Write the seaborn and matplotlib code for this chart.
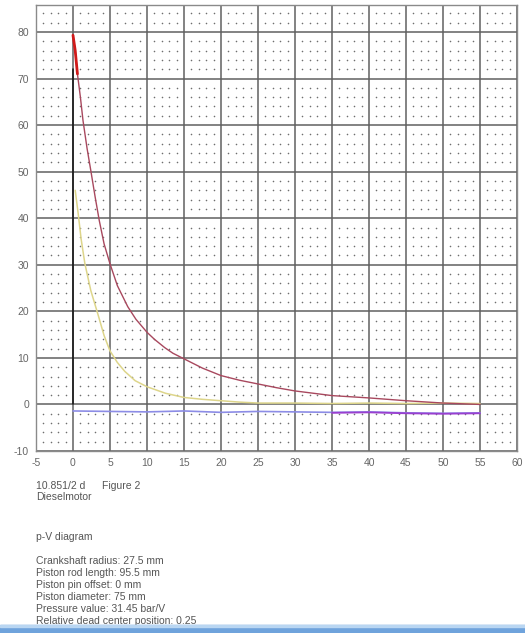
import numpy as np
import pandas as pd
import matplotlib
matplotlib.use('Agg')
import matplotlib.pyplot as plt
import seaborn as sns

sns.set_style("white")
plt.rcParams['font.family'] = ['Liberation Sans', 'DejaVu Sans']
plt.rcParams['axes.unicode_minus'] = False

# ---- data ----
# expansion stroke (red)
exp_x = [0.0, 0.3, 0.6, 1.0, 1.35, 1.9, 2.4, 3.0, 3.55, 4.2, 5.0, 6.0, 7.4, 8.5, 10.0, 11.0, 12.4, 13.5,
         15.0, 17.5, 20.0, 22.5, 25.0, 27.5, 30.0, 35.0, 40.0, 45.0, 50.0, 55.0]
exp_p = [79.3, 76.0, 71.0, 66.0, 61.0, 55.0, 50.3, 44.5, 39.5, 34.5, 30.2, 25.5, 21.0, 18.3, 15.5, 14.0, 12.2, 11.0,
         9.8, 7.8, 6.2, 5.2, 4.4, 3.6, 2.9, 1.9, 1.4, 0.8, 0.3, 0.0]

# compression stroke (yellow)
comp_x = [0.3, 0.5, 0.7, 1.1, 1.6, 2.4, 3.4, 4.2, 5.0, 6.0, 7.0, 8.4, 10.0, 12.5, 15.0, 17.5, 20.0, 22.5,
          25.0, 30.0, 35.0, 40.0, 45.0, 50.0, 55.0]
comp_p = [46.0, 43.5, 41.0, 35.5, 30.3, 24.5, 19.2, 14.8, 11.5, 9.0, 7.1, 5.1, 3.8, 2.4, 1.5, 1.1, 0.8, 0.5,
          0.3, 0.3, 0.2, 0.3, 0.2, 0.3, 0.2]

# intake stroke (blue) and its purple tail
intake_x = [0, 5, 10, 15, 20, 25, 30, 35, 40, 45, 50, 55]
intake_p = [-1.4, -1.5, -1.6, -1.4, -1.7, -1.5, -1.6, -1.7, -1.6, -1.8, -1.9, -1.8]
tail_x = [35, 40, 45, 50, 55]
tail_p = [-1.8, -1.7, -1.9, -2.0, -1.9]

# ignition line at top dead center
tdc_x = [0, 0]
tdc_p = [0, 72]

x_ticks = [-5, 0, 5, 10, 15, 20, 25, 30, 35, 40, 45, 50, 55, 60]
y_ticks = [-10, 0, 10, 20, 30, 40, 50, 60, 70, 80]

info_lines = ["Crankshaft radius: 27.5 mm",
              "Piston rod length: 95.5 mm",
              "Piston pin offset: 0 mm",
              "Piston diameter: 75 mm",
              "Pressure value: 31.45 bar/V",
              "Relative dead center position: 0.25"]

W, H = 525, 633
fig = plt.figure(figsize=(W / 100, H / 100), dpi=100)
ax = fig.add_axes([36 / W, 1 - 451 / H, (517 - 36) / W, (451 - 5) / H])
ax.set_xlim(-5, 60)
ax.set_ylim(-10, 85.8)

# dotted sub-grid
gx, gy = np.meshgrid(np.arange(-5, 61, 1), np.arange(-10, 86, 2))
mask = (gx % 5 != 0) & (gy % 10 != 0)
ax.scatter(gx[mask], gy[mask], s=1.3, color='#6e6e6e', linewidths=0, zorder=1)

# major grid
ax.set_xticks(x_ticks)
ax.set_yticks(y_ticks)
ax.grid(True, color='#606060', linewidth=1.1, zorder=0)
for s in ax.spines.values():
    s.set_color('#8a8a8a')
    s.set_linewidth(1.0)
ax.tick_params(axis='both', length=0, labelsize=7.5, labelcolor='#666666', pad=5)

df_comp = pd.DataFrame({'V': comp_x, 'p': comp_p})
df_exp = pd.DataFrame({'V': exp_x, 'p': exp_p})
df_in = pd.DataFrame({'V': intake_x, 'p': intake_p})
df_tail = pd.DataFrame({'V': tail_x, 'p': tail_p})

sns.lineplot(data=df_in, x='V', y='p', color='#8c8ce6', linewidth=1.2, ax=ax, zorder=3)
sns.lineplot(data=df_tail, x='V', y='p', color='#9a3fd0', linewidth=1.3, ax=ax, zorder=3)
sns.lineplot(data=df_comp, x='V', y='p', color='#ddd58a', linewidth=1.1, sort=False, ax=ax, zorder=3)
ax.plot(tdc_x, tdc_p, color='#111111', linewidth=1.1, zorder=3)
sns.lineplot(data=df_exp, x='V', y='p', color='#a8485e', linewidth=1.0, sort=False, ax=ax, zorder=4)
sns.lineplot(data=df_exp.iloc[:3], x='V', y='p', color='#d01a1a', linewidth=2.0, sort=False, ax=ax, zorder=5)
ax.set_xlabel('')
ax.set_ylabel('')

# caption block
tc = '#555555'
fig.text(36 / W, 1 - 486 / H, "10.851/2 d", fontsize=7.5, color=tc, va='center')
fig.text(102 / W, 1 - 486 / H, "Figure 2", fontsize=7.5, color=tc, va='center')
fig.text(36 / W, 1 - 497 / H, "Dieselmotor", fontsize=7.5, color=tc, va='center')
fig.text(36 / W, 1 - 537 / H, "p-V diagram", fontsize=7.5, color=tc, va='center')
for i, line in enumerate(info_lines):
    fig.text(36 / W, 1 - (561 + 12 * i) / H, line, fontsize=7.5, color=tc, va='center')

# blue strip along the bottom edge
fig.patches.append(plt.Rectangle((0, 0), 1, 8 / H, transform=fig.transFigure,
                                 color='#6fa3dc', zorder=10))
fig.patches.append(plt.Rectangle((0, 6 / H), 1, 2 / H, transform=fig.transFigure,
                                 color='#b9d6f2', zorder=11))

fig.savefig('out.png', dpi=100)
